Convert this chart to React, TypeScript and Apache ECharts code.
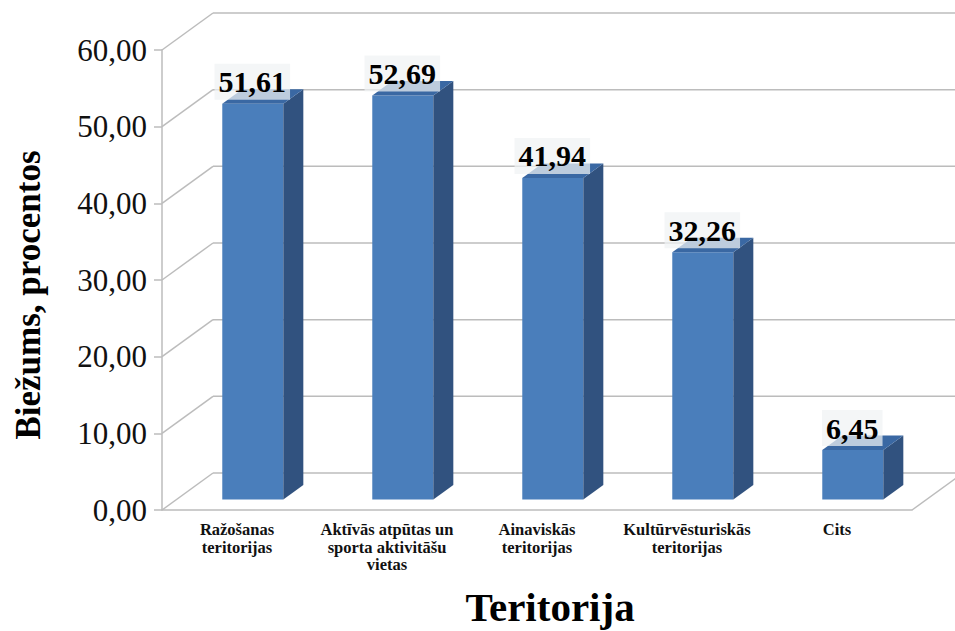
import React, { useEffect, useRef } from "react";
import * as echarts from "echarts";

const categories = [
  "Ražošanas\nteritorijas",
  "Aktīvās atpūtas un\nsporta aktivitāšu\nvietas",
  "Ainaviskās\nteritorijas",
  "Kultūrvēsturiskās\nteritorijas",
  "Cits",
];
const frequencyValues = [51.61, 52.69, 41.94, 32.26, 6.45];
const yTicks = [0, 10, 20, 30, 40, 50, 60];
const yAxisTitle = "Biežums, procentos";
const xAxisTitle = "Teritorija";

const SERIF = "'Liberation Serif', 'Times New Roman', serif";
const LINE = "#bcbcbc";
const FRONT = "#4a7ebb";
const SIDE = "#31527f";
const TOP = "#3a68a3";
const WALL_DX = 51;
const WALL_DY = -37;
const BAR_DX = 20;
const BAR_DY = -14.5;
const BAR_SHIFT_X = 15.8;
const BAR_SHIFT_Y = -10.5;
const BAR_RATIO = 0.407;
const comma = (v: number) => v.toFixed(2).replace(".", ",");

export default function App() {
  const ref = useRef<HTMLDivElement>(null);
  useEffect(() => {
    document.body.style.margin = "0";
    const chart = echarts.init(ref.current!, undefined, { renderer: "svg" });
    chart.setOption({
      animation: false,
      backgroundColor: "#ffffff",
      grid: { left: 162, right: 43, top: 50, bottom: 121, containLabel: false, outerBoundsMode: "none" },
      xAxis: {
        type: "category",
        data: categories,
        name: xAxisTitle,
        nameLocation: "middle",
        nameGap: 76,
        nameTextStyle: {
          fontFamily: SERIF,
          fontSize: 41,
          fontWeight: "bold",
          color: "#000",
          padding: [0, 0, 0, 26],
        },
        axisLine: { lineStyle: { color: LINE, width: 1.5 } },
        axisTick: { length: 5, lineStyle: { color: LINE, width: 1.5 } },
        axisLabel: {
          interval: 0,
          margin: 11,
          fontFamily: SERIF,
          fontSize: 16.5,
          fontWeight: "bold",
          color: "#111",
          lineHeight: 17.5,
        },
      },
      yAxis: {
        type: "value",
        min: 0,
        max: 60,
        interval: 10,
        name: yAxisTitle,
        nameLocation: "middle",
        nameGap: 116,
        nameTextStyle: {
          fontFamily: SERIF,
          fontSize: 35,
          fontWeight: "bold",
          color: "#000",
          padding: [0, 30, 0, 0],
        },
        axisLine: { show: true, lineStyle: { color: LINE, width: 1.5 } },
        axisTick: { show: true, length: 8, lineStyle: { color: LINE, width: 1.5 } },
        splitLine: { show: false },
        axisLabel: {
          margin: 15,
          fontFamily: SERIF,
          fontSize: 31,
          color: "#111",
          formatter: (v: number) => comma(v),
        },
      },
      series: [
        {
          type: "custom",
          name: "walls",
          silent: true,
          clip: false,
          z: 1,
          encode: { x: 0, y: 1 },
          data: yTicks.map((v) => [0, v]),
          renderItem: (params: any, api: any) => {
            const left = params.coordSys.x;
            const right = left + params.coordSys.width;
            const y = api.coord([0, api.value(1)])[1];
            const style = { stroke: LINE, lineWidth: 1.5, fill: "none" };
            const children: any[] = [
              {
                type: "line",
                shape: { x1: left, y1: y, x2: left + WALL_DX, y2: y + WALL_DY },
                style,
              },
              {
                type: "line",
                shape: { x1: left + WALL_DX, y1: y + WALL_DY, x2: right + WALL_DX, y2: y + WALL_DY },
                style,
              },
            ];
            if (api.value(1) === 0) {
              children.push({
                type: "line",
                shape: { x1: right, y1: y, x2: right + WALL_DX, y2: y + WALL_DY },
                style,
              });
            }
            return { type: "group", children };
          },
        },
        {
          type: "custom",
          name: "Biežums",
          clip: false,
          z: 2,
          encode: { x: 0, y: 1 },
          data: frequencyValues.map((v, i) => [i, v]),
          renderItem: (_params: any, api: any) => {
            const value = api.value(1);
            const base = api.coord([api.value(0), 0]);
            const top = api.coord([api.value(0), value]);
            const width = api.size([1, 0])[0] * BAR_RATIO;
            const cx = base[0] + BAR_SHIFT_X;
            const x0 = cx - width / 2;
            const x1 = cx + width / 2;
            const yb = base[1] + BAR_SHIFT_Y;
            const yt = top[1] + BAR_SHIFT_Y;
            return {
              type: "group",
              children: [
                {
                  type: "rect",
                  shape: { x: x0, y: yt, width, height: yb - yt },
                  style: { fill: FRONT },
                },
                {
                  type: "polygon",
                  shape: {
                    points: [
                      [x1, yt],
                      [x1 + BAR_DX, yt + BAR_DY],
                      [x1 + BAR_DX, yb + BAR_DY],
                      [x1, yb],
                    ],
                  },
                  style: { fill: SIDE },
                },
                {
                  type: "polygon",
                  shape: {
                    points: [
                      [x0, yt],
                      [x0 + BAR_DX, yt + BAR_DY],
                      [x1 + BAR_DX, yt + BAR_DY],
                      [x1, yt],
                    ],
                  },
                  style: { fill: TOP },
                },
                {
                  type: "text",
                  x: cx - 0.5,
                  y: yt - 4,
                  style: {
                    text: comma(value),
                    fontFamily: SERIF,
                    fontSize: 30,
                    fontWeight: "bold",
                    fill: "#000",
                    align: "center",
                    verticalAlign: "bottom",
                    backgroundColor: "rgba(240,242,244,0.72)",
                    padding: [3, 4, 3, 4],
                  },
                },
              ],
            };
          },
        },
      ],
    });
    return () => chart.dispose();
  }, []);
  return (
    <div
      ref={ref}
      style={{ position: "absolute", left: 0, top: 0, width: 955, height: 631 }}
    />
  );
}
